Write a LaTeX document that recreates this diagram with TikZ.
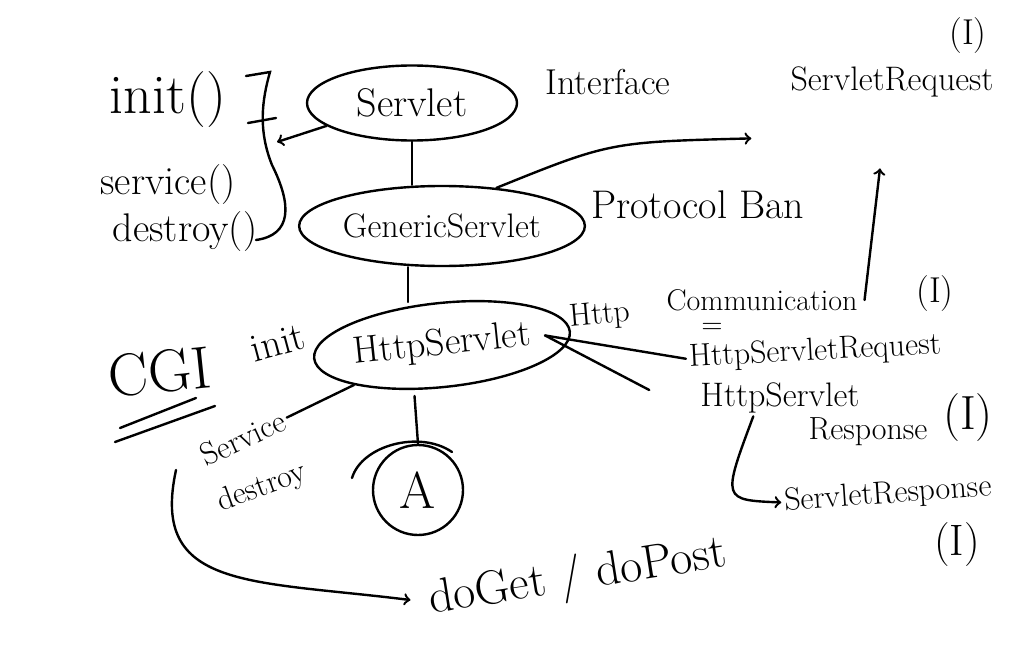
\documentclass[tikz,border=0pt]{standalone}
\usepackage{tikz}
\usetikzlibrary{shapes.geometric}

\begin{document}
\begin{tikzpicture}[x=0.5pt,y=-0.5pt,line width=1.2pt,line cap=round,
  hw/.style={font=\fontsize{#1}{#1}\selectfont,inner sep=1pt},
  oval/.style={draw,ellipse,inner sep=0pt}]
\useasboundingbox (0,0) rectangle (1024,669);
% life cycle methods
\node[hw=28] (init) at (168,100) {init()};
\node[hw=20] (service) at (168,185) {service()};
\node[hw=20] (destroy) at (185,232) {destroy()};
\coordinate (brace) at (277,142);
\draw (246,76) -- (270,72) .. controls (262,100) and (258,130) .. (272,165) .. controls (292,205) and (292,235) .. (256,240);
\draw (248,123) -- (276,118);
% hierarchy
\node[oval,hw=20,minimum width=105pt,minimum height=37.5pt] (servlet) at (412,103) {Servlet};
\node[hw=18] (iface) at (608,82) {Interface};
\node[oval,hw=17,minimum width=137.5pt,minimum height=40pt] (generic) at (442,226) {GenericServlet};
\node[hw=20,anchor=west] (proto) at (588,205) {Protocol Ban};
\node[oval,hw=19,rotate=6,minimum width=110pt,minimum height=42pt] (http) at (442,345) {HttpServlet};
\node[circle,draw,hw=26,inner sep=0pt,minimum size=45pt] (a) at (418,490) {A};
\draw (352,478) .. controls (362,445) and (420,430) .. (452,452);
% request / response
\node[hw=17] (sreq) at (892,82) {ServletRequest};
\node[hw=18] (sreqI) at (968,36) {(I)};
\node[hw=16,rotate=5] (httpw) at (600,316) {Http};
\node[hw=15] (comm) at (762,300) {Communication};
\node[hw=14] (eq) at (712,328) {=};
\node[hw=18] (commI) at (935,294) {(I)};
\node[hw=16,rotate=3] (httpreq) at (815,352) {HttpServletRequest};
\node[hw=17] (hresp) at (780,398) {HttpServlet};
\node[hw=16] (resp) at (868,432) {Response};
\node[hw=24] (respI) at (968,418) {(I)};
\node[hw=16,rotate=4] (sresp) at (888,495) {ServletResponse};
\node[hw=22] (srespI) at (957,545) {(I)};
% CGI side
\node[hw=30,rotate=6] (cgi) at (160,372) {CGI};
\draw (120,428) -- (196,398);
\draw (115,442) -- (215,406);
\node[hw=20,rotate=15] (cinit) at (278,343) {init};
\node[hw=16,rotate=25] (cservice) at (243,438) {Service};
\node[hw=16,rotate=20] (cdestroy) at (262,488) {destroy};
\node[hw=24,rotate=9] (doget) at (578,578) {doGet / doPost};
\coordinate (lstart) at (176,470);
% connectors
\draw[->] (servlet.195) -- (brace);
\draw (servlet.south) -- (servlet.south |- generic.north);
\draw ([xshift=-17pt]generic.south) -- ([xshift=-17pt]generic.south |- http.north);
\draw ([xshift=-16pt,yshift=-4pt]http.south) -- (a.north);
\draw[->] (generic.35) .. controls (610,142) .. ([xshift=-18pt,yshift=-19pt]sreq.south west);
\draw[->] ([xshift=2pt]comm.east) -- ([xshift=-6pt,yshift=-34pt]sreq.south);
\draw ([xshift=-13pt,yshift=-2pt]http.east) -- (httpreq.west);
\draw ([xshift=-13pt,yshift=-2pt]http.east) -- ([xshift=-24pt,yshift=4pt]hresp.west);
\draw[->] ([xshift=28pt]hresp.south west) .. controls (722,500) .. (sresp.west);
\draw (cservice.east) -- (http.south west);
\draw[->,shorten >=8pt] (lstart) .. controls (150,590) and (250,580) .. (doget.west);
\end{tikzpicture}
\end{document}
